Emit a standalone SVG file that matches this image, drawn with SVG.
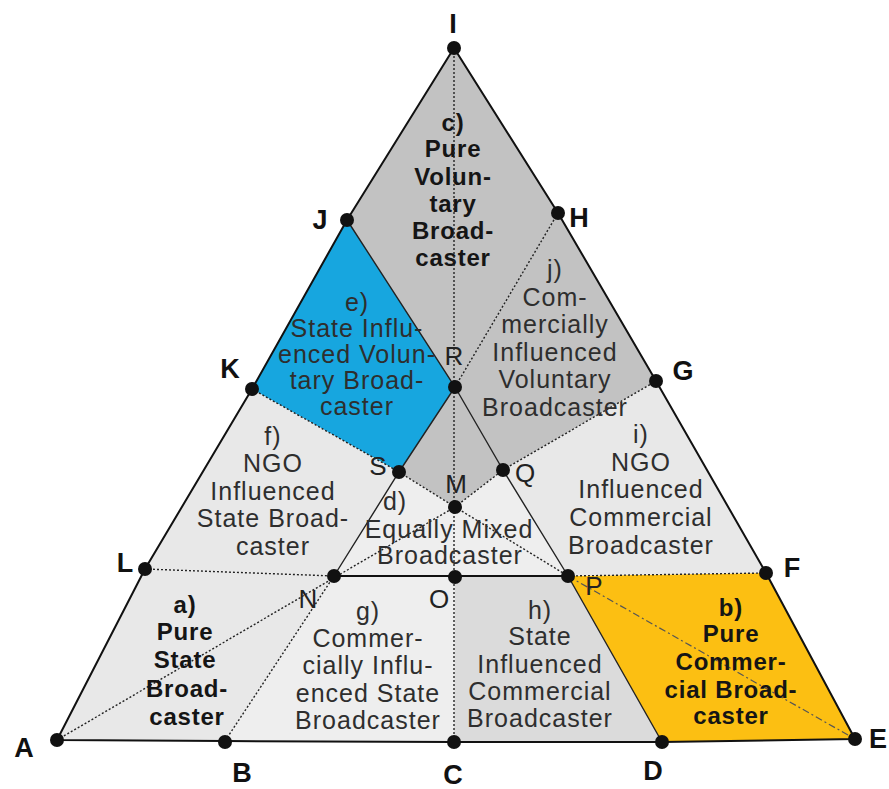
<svg xmlns="http://www.w3.org/2000/svg" width="889" height="789" viewBox="0 0 889 789">
<style>
.dark{fill:#c2c2c2}
.light{fill:#e8e8e8}
.lighter{fill:#eeeeee}
.mid{fill:#dbdbdb}
.blue{fill:#17a6df}
.orange{fill:#fcbf12}
.solid{stroke:#111;stroke-width:2;fill:none;stroke-linejoin:round}
.thin{stroke:#222;stroke-width:1.4;fill:none}
.dot{stroke:#222;stroke-width:1.4;stroke-dasharray:2 2;fill:none}
.dashdot{stroke:#555;stroke-width:1.2;stroke-dasharray:7 3 2 3;fill:none}
.pt{fill:#111}
.reg{font-family:"Liberation Sans",Arial,sans-serif;font-size:25px;letter-spacing:1px;fill:#2e2e2e;text-anchor:middle}
.bold{font-family:"Liberation Sans",Arial,sans-serif;font-size:24px;font-weight:bold;letter-spacing:0.8px;fill:#151515;text-anchor:middle}
.lbl{font-family:"Liberation Sans",Arial,sans-serif;font-size:27px;font-weight:bold;fill:#111;text-anchor:middle}
.ilbl{font-family:"Liberation Sans",Arial,sans-serif;font-size:26px;fill:#222;text-anchor:middle}
</style>
<rect width="889" height="789" fill="#ffffff"/>

<g id="region-c"><polygon class="dark" points="454,48 558,213 455,387 347,220"/>
<text class="bold"><tspan x="453" y="131">c)</tspan><tspan x="453" y="157">Pure</tspan><tspan x="453" y="185">Volun-</tspan><tspan x="453" y="212">tary</tspan><tspan x="453" y="239">Broad-</tspan><tspan x="453" y="266">caster</tspan></text></g>

<g id="region-j"><polygon class="dark" points="558,213 656,381 503,470 455,387"/></g>
<g id="region-top-mid"><polygon class="dark" points="455,387 503,470 455,507 399,472"/></g>

<g id="region-e"><polygon class="blue" points="347,220 455,387 399,472 252,389"/></g>
<g id="region-f"><polygon class="light" points="252,389 399,472 334,576 145,569"/></g>
<g id="region-a"><polygon class="light" points="145,569 334,576 225,741 57,740"/></g>
<g id="region-g"><polygon class="lighter" points="334,576 455,577 454,742 225,741"/></g>
<g id="region-h"><polygon class="mid" points="455,577 568,576 662,742 454,742"/></g>
<g id="region-b"><polygon class="orange" points="568,576 766,573 855,739 662,742"/></g>
<g id="region-i"><polygon class="light" points="503,470 656,381 766,573 568,576"/></g>
<g id="region-d"><polygon class="lighter" points="399,472 455,507 503,470 568,576 334,576"/></g>

<g id="connectors">
<polyline class="solid" points="57,740 145,569 252,389 347,220 454,48 558,213 656,381 766,573 855,739 662,742 454,742 225,741 57,740"/>
<line class="dot" x1="454" y1="48" x2="454" y2="742"/>
<polyline class="thin" points="347,220 455,387 503,470 568,576 662,742"/>
<polyline class="thin" points="455,387 399,472 334,576"/>
<line class="solid" x1="334" y1="576" x2="568" y2="576"/>
<line class="dot" x1="558" y1="213" x2="455" y2="387"/>
<line class="dot" x1="252" y1="389" x2="399" y2="472"/>
<line class="dot" x1="399" y1="472" x2="455" y2="507"/>
<line class="dot" x1="455" y1="507" x2="503" y2="470"/>
<line class="dot" x1="503" y1="470" x2="656" y2="381"/>
<line class="dot" x1="145" y1="569" x2="334" y2="576"/>
<line class="dot" x1="568" y1="576" x2="766" y2="573"/>
<line class="dot" x1="57" y1="740" x2="455" y2="507"/>
<line class="dot" x1="225" y1="741" x2="334" y2="576"/>
<line class="dot" x1="455" y1="507" x2="568" y2="576"/>
<line class="dashdot" x1="568" y1="576" x2="855" y2="739"/>
</g>

<g id="texts">
<text class="reg"><tspan x="357" y="311">e)</tspan><tspan x="357" y="337">State Influ-</tspan><tspan x="357" y="363">enced Volun-</tspan><tspan x="357" y="389">tary Broad-</tspan><tspan x="357" y="415">caster</tspan></text>
<text class="reg"><tspan x="555" y="278">j)</tspan><tspan x="555" y="306">Com-</tspan><tspan x="555" y="333">mercially</tspan><tspan x="555" y="361">Influenced</tspan><tspan x="555" y="388">Voluntary</tspan><tspan x="555" y="416">Broadcaster</tspan></text>
<text class="reg"><tspan x="273" y="445">f)</tspan><tspan x="273" y="472">NGO</tspan><tspan x="273" y="500">Influenced</tspan><tspan x="273" y="527">State Broad-</tspan><tspan x="273" y="555">caster</tspan></text>
<text class="reg"><tspan x="641" y="443">i)</tspan><tspan x="641" y="471">NGO</tspan><tspan x="641" y="498">Influenced</tspan><tspan x="641" y="526">Commercial</tspan><tspan x="641" y="554">Broadcaster</tspan></text>
<text class="reg"><tspan x="395" y="510">d)</tspan><tspan x="449" y="538">Equally Mixed</tspan><tspan x="450" y="564">Broadcaster</tspan></text>
<text class="bold"><tspan x="185" y="613">a)</tspan><tspan x="185" y="640">Pure</tspan><tspan x="185" y="668">State</tspan><tspan x="187" y="697">Broad-</tspan><tspan x="187" y="725">caster</tspan></text>
<text class="reg"><tspan x="368" y="620">g)</tspan><tspan x="368" y="647">Commer-</tspan><tspan x="368" y="674">cially Influ-</tspan><tspan x="368" y="702">enced State</tspan><tspan x="368" y="729">Broadcaster</tspan></text>
<text class="reg"><tspan x="540" y="619">h)</tspan><tspan x="540" y="645">State</tspan><tspan x="540" y="673">Influenced</tspan><tspan x="540" y="700">Commercial</tspan><tspan x="540" y="727">Broadcaster</tspan></text>
<text class="bold"><tspan x="731" y="616">b)</tspan><tspan x="731" y="642">Pure</tspan><tspan x="731" y="670">Commer-</tspan><tspan x="731" y="698">cial Broad-</tspan><tspan x="731" y="724">caster</tspan></text>
</g>

<g id="node-I"><circle class="pt" cx="454" cy="48" r="7"/><text class="lbl" x="453" y="33">I</text></g>
<g id="node-J"><circle class="pt" cx="347" cy="220" r="7"/><text class="lbl" x="320" y="229">J</text></g>
<g id="node-H"><circle class="pt" cx="558" cy="213" r="7"/><text class="lbl" x="579" y="227">H</text></g>
<g id="node-K"><circle class="pt" cx="252" cy="389" r="7"/><text class="lbl" x="230" y="378">K</text></g>
<g id="node-G"><circle class="pt" cx="656" cy="381" r="7"/><text class="lbl" x="683" y="380">G</text></g>
<g id="node-L"><circle class="pt" cx="145" cy="569" r="7"/><text class="lbl" x="125" y="572">L</text></g>
<g id="node-F"><circle class="pt" cx="766" cy="573" r="7"/><text class="lbl" x="792" y="577">F</text></g>
<g id="node-A"><circle class="pt" cx="57" cy="740" r="7"/><text class="lbl" x="24" y="757">A</text></g>
<g id="node-B"><circle class="pt" cx="225" cy="742" r="7"/><text class="lbl" x="242" y="782">B</text></g>
<g id="node-C"><circle class="pt" cx="454" cy="742" r="7"/><text class="lbl" x="453" y="784">C</text></g>
<g id="node-D"><circle class="pt" cx="662" cy="742" r="7"/><text class="lbl" x="653" y="780">D</text></g>
<g id="node-E"><circle class="pt" cx="855" cy="739" r="7"/><text class="lbl" x="878" y="748">E</text></g>
<g id="node-R"><circle class="pt" cx="455" cy="387" r="7"/><text class="ilbl" x="454" y="365">R</text></g>
<g id="node-S"><circle class="pt" cx="399" cy="472" r="7"/><text class="ilbl" x="378" y="475">S</text></g>
<g id="node-M"><circle class="pt" cx="455" cy="507" r="7"/><text class="ilbl" x="456" y="493">M</text></g>
<g id="node-Q"><circle class="pt" cx="503" cy="470" r="7"/><text class="ilbl" x="525" y="482">Q</text></g>
<g id="node-N"><circle class="pt" cx="334" cy="576" r="7"/><text class="ilbl" x="308" y="608">N</text></g>
<g id="node-O"><circle class="pt" cx="455" cy="577" r="7"/><text class="ilbl" x="439" y="608">O</text></g>
<g id="node-P"><circle class="pt" cx="568" cy="576" r="7"/><text class="ilbl" x="594" y="595">P</text></g>
</svg>
